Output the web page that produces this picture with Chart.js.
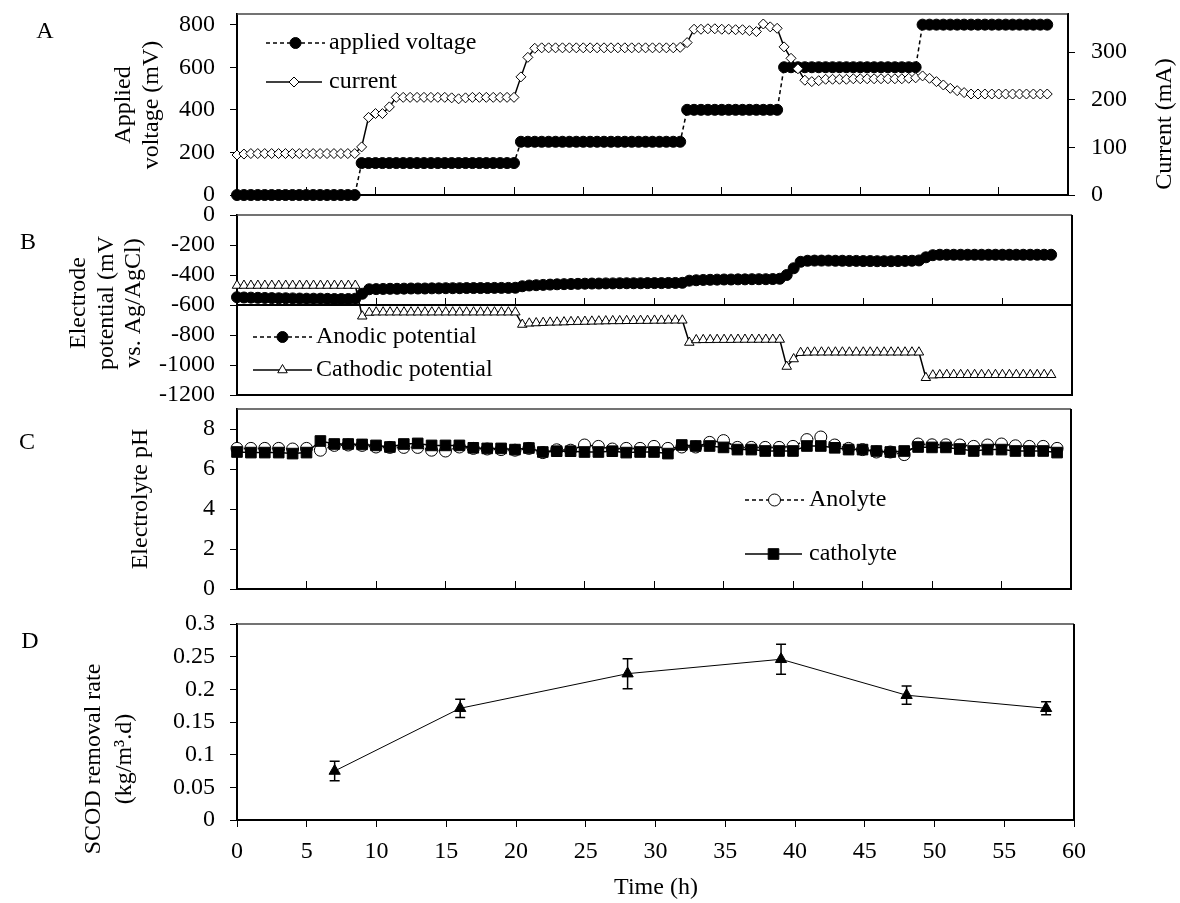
<!DOCTYPE html>
<html>
<head>
<meta charset="utf-8">
<title>Reactor operation over 60 h</title>
<script src="https://cdn.jsdelivr.net/npm/chart.js@4.4.1/dist/chart.umd.min.js"></script>
<style>
  html, body { margin: 0; padding: 0; background: #fff; }
  #wrap { position: relative; width: 1180px; height: 903px; }
  #wrap canvas { position: absolute; left: 0; top: 0; }
</style>
</head>
<body>
<div id="wrap">
  <canvas id="panelA" width="1180" height="903"></canvas>
  <canvas id="panelB" width="1180" height="903"></canvas>
  <canvas id="panelC" width="1180" height="903"></canvas>
  <canvas id="panelD" width="1180" height="903"></canvas>
</div>
<script>
// ---- data ----

// half-hourly log: applied voltage, current, electrode potentials
const hours = [
  0, 0.5, 1, 1.5, 2, 2.5, 3, 3.5, 4, 4.5, 5, 5.5, 6, 6.5, 7, 7.5, 8, 8.5, 9, 9.5,
  10, 10.5, 11, 11.5, 12, 12.5, 13, 13.5, 14, 14.5, 15, 15.5, 16, 16.5, 17, 17.5, 18, 18.5, 19, 19.5,
  20, 20.5, 21, 21.5, 22, 22.5, 23, 23.5, 24, 24.5, 25, 25.5, 26, 26.5, 27, 27.5, 28, 28.5, 29, 29.5,
  30, 30.5, 31, 31.5, 32, 32.5, 33, 33.5, 34, 34.5, 35, 35.5, 36, 36.5, 37, 37.5, 38, 38.5, 39, 39.5,
  40, 40.5, 41, 41.5, 42, 42.5, 43, 43.5, 44, 44.5, 45, 45.5, 46, 46.5, 47, 47.5, 48, 48.5, 49, 49.5,
  50, 50.5, 51, 51.5, 52, 52.5, 53, 53.5, 54, 54.5, 55, 55.5, 56, 56.5, 57, 57.5, 58, 58.5
];

// mV
const appliedVoltage = [
  0, 0, 0, 0, 0, 0, 0, 0, 0, 0, 0, 0, 0, 0, 0, 0, 0, 0, 150, 150,
  150, 150, 150, 150, 150, 150, 150, 150, 150, 150, 150, 150, 150, 150, 150, 150, 150, 150, 150, 150,
  150, 250, 250, 250, 250, 250, 250, 250, 250, 250, 250, 250, 250, 250, 250, 250, 250, 250, 250, 250,
  250, 250, 250, 250, 250, 400, 400, 400, 400, 400, 400, 400, 400, 400, 400, 400, 400, 400, 400, 600,
  600, 600, 600, 600, 600, 600, 600, 600, 600, 600, 600, 600, 600, 600, 600, 600, 600, 600, 600, 800,
  800, 800, 800, 800, 800, 800, 800, 800, 800, 800, 800, 800, 800, 800, 800, 800, 800, 800
];

// mA
const current = [
  84, 86, 87, 87, 87, 87, 87, 87, 87, 87, 87, 87, 87, 87, 87, 87, 87, 87, 101, 163,
  171, 171, 185, 205, 205, 205, 205, 205, 205, 205, 205, 204, 202, 204, 205, 205, 205, 205, 205, 205,
  205, 248, 289, 308, 309, 309, 309, 309, 309, 309, 309, 309, 309, 309, 309, 309, 309, 309, 309, 309,
  309, 309, 309, 309, 310, 320, 348, 348, 349, 349, 348, 348, 347, 347, 345, 343, 359, 353, 350, 311,
  287, 265, 241, 238, 240, 243, 243, 243, 243, 244, 244, 244, 244, 244, 244, 244, 244, 245, 246, 250,
  245, 238, 231, 224, 219, 215, 212, 212, 212, 212, 212, 212, 212, 212, 212, 212, 212, 212
];

// mV vs. Ag/AgCl
const anodicPotential = [
  -548, -550, -551, -552, -553, -554, -555, -555, -556, -557, -558, -558, -558, -559, -560, -560, -560, -558, -525, -495,
  -494, -493, -492, -492, -491, -490, -490, -490, -489, -489, -488, -488, -488, -487, -487, -487, -487, -486, -486, -486,
  -485, -475, -470, -468, -466, -464, -462, -461, -460, -459, -458, -457, -457, -456, -456, -455, -455, -455, -455, -454,
  -454, -454, -453, -453, -452, -438, -435, -433, -432, -431, -430, -430, -429, -429, -428, -428, -428, -427, -425, -400,
  -355, -312, -305, -304, -304, -304, -305, -305, -306, -306, -307, -307, -308, -308, -308, -307, -306, -305, -303, -282,
  -268, -265, -265, -265, -265, -265, -265, -265, -265, -265, -265, -265, -265, -265, -265, -265, -265, -265
];

const cathodicPotential = [
  -470, -470, -470, -470, -470, -470, -470, -470, -470, -470, -470, -470, -470, -470, -470, -470, -470, -470, -675, -650,
  -648, -648, -648, -648, -648, -648, -648, -648, -648, -648, -648, -648, -648, -648, -648, -648, -648, -648, -648, -648,
  -648, -730, -722, -720, -718, -716, -715, -714, -712, -711, -710, -709, -708, -707, -706, -706, -705, -705, -704, -704,
  -703, -703, -702, -702, -702, -850, -833, -832, -832, -831, -831, -831, -830, -830, -830, -830, -830, -830, -830, -1010,
  -960, -918, -916, -915, -915, -915, -915, -915, -915, -915, -915, -915, -915, -915, -915, -915, -915, -915, -915, -1085,
  -1068, -1066, -1065, -1065, -1065, -1065, -1065, -1065, -1065, -1065, -1065, -1065, -1065, -1065, -1065, -1065, -1065, -1065
];

// hourly electrolyte pH
const phHours = [
  0, 1, 2, 3, 4, 5, 6, 7, 8, 9, 10, 11, 12, 13, 14, 15, 16, 17, 18, 19,
  20, 21, 22, 23, 24, 25, 26, 27, 28, 29, 30, 31, 32, 33, 34, 35, 36, 37, 38, 39,
  40, 41, 42, 43, 44, 45, 46, 47, 48, 49, 50, 51, 52, 53, 54, 55, 56, 57, 58, 59
];
const anolytePH = [
  7.03, 7.03, 7.03, 7.03, 7.00, 7.03, 6.94, 7.18, 7.20, 7.18, 7.10, 7.08, 7.08, 7.08, 6.94, 6.90, 7.10, 7.03, 7.00, 6.97,
  6.94, 7.03, 6.82, 6.96, 6.94, 7.20, 7.13, 7.00, 7.03, 7.03, 7.13, 7.03, 7.10, 7.10, 7.33, 7.42, 7.08, 7.08, 7.08, 7.08,
  7.13, 7.47, 7.60, 7.20, 7.03, 6.97, 6.85, 6.85, 6.72, 7.25, 7.21, 7.21, 7.20, 7.13, 7.20, 7.25, 7.16, 7.13, 7.13, 7.03
];
const catholytePH = [
  6.85, 6.82, 6.82, 6.82, 6.77, 6.82, 7.40, 7.25, 7.25, 7.23, 7.18, 7.10, 7.25, 7.28, 7.18, 7.18, 7.18, 7.06, 7.03, 7.03,
  6.97, 7.05, 6.85, 6.89, 6.89, 6.85, 6.85, 6.89, 6.82, 6.85, 6.85, 6.77, 7.20, 7.15, 7.15, 7.08, 6.97, 6.97, 6.90, 6.90,
  6.90, 7.15, 7.15, 7.06, 6.97, 6.97, 6.90, 6.85, 6.90, 7.10, 7.08, 7.08, 7.00, 6.90, 6.97, 6.97, 6.90, 6.90, 6.90, 6.82
];

// SCOD removal rate, kg/m3.d, with standard deviation
const scodHours = [7, 16, 28, 39, 48, 58];
const scodRate = [0.075, 0.171, 0.224, 0.246, 0.191, 0.171];
const scodSd = [0.015, 0.014, 0.023, 0.023, 0.014, 0.010];

// ---- layout ----
const W = 1180, H = 903, LEFT = 237;
const FAMILY = "'Liberation Serif', 'Times New Roman', Times, serif";
const FONT = '24px ' + FAMILY;

Chart.defaults.font.family = FAMILY;
Chart.defaults.font.size = 24;
Chart.defaults.color = '#000';

const pts = (xs, ys) => xs.map((x, i) => ({ x: x, y: ys[i] }));
// plain numbers: no thousands separator, no padded decimals
const plain = v => String(Math.round(v * 1000) / 1000);

// fixed axis sizes so every panel's plot area lines up; label overflow is ignored
function fixSize(s, w, h) {
  if (w !== undefined) s.width = w;
  if (h !== undefined) s.height = h;
  s.paddingTop = 0;
  s.paddingBottom = 0;
  s.paddingLeft = 0;
  s.paddingRight = 0;
}

function timeAxis() {
  return {
    type: 'linear', min: 0, max: 60,
    ticks: { stepSize: 5, display: false },
    grid: { drawOnChartArea: false, tickLength: -8, color: '#000', lineWidth: 1 },
    border: { color: '#000', width: 2 },
    afterFit: s => fixSize(s, undefined, 0)
  };
}

function valueAxis(min, max, step, width, position) {
  return {
    type: 'linear', position: position || 'left', min: min, max: max,
    ticks: {
      stepSize: step, includeBounds: false, autoSkip: false,
      padding: position === 'right' ? 16 : 15, callback: plain
    },
    grid: { drawOnChartArea: false, tickLength: 7, color: '#000', lineWidth: 1 },
    border: { color: '#000', width: 2 },
    afterFit: s => fixSize(s, width)
  };
}

function vText(ctx, text, x, y) {
  ctx.save();
  ctx.translate(x, y);
  ctx.rotate(-Math.PI / 2);
  ctx.textAlign = 'center';
  ctx.textBaseline = 'middle';
  ctx.fillText(text, 0, 0);
  ctx.restore();
}

// legend rows: sample line + marker taken from the dataset, then its label
function drawLegend(chart, rows) {
  const ctx = chart.ctx;
  rows.forEach(r => {
    const ds = chart.data.datasets[r.index];
    ctx.save();
    ctx.strokeStyle = ds.borderColor;
    ctx.lineWidth = ds.borderWidth;
    ctx.setLineDash(ds.borderDash || []);
    ctx.beginPath();
    ctx.moveTo(r.x0, r.y);
    ctx.lineTo(r.x1, r.y);
    ctx.stroke();
    ctx.setLineDash([]);
    ctx.fillStyle = ds.pointBackgroundColor;
    ctx.strokeStyle = ds.pointBorderColor;
    ctx.lineWidth = ds.pointBorderWidth;
    Chart.helpers.drawPoint(ctx, {
      pointStyle: ds.pointStyle, radius: ds.pointRadius, borderWidth: ds.pointBorderWidth, rotation: 0
    }, (r.x0 + r.x1) / 2, r.y);
    ctx.fillStyle = '#000';
    ctx.font = FONT;
    ctx.textAlign = 'left';
    ctx.textBaseline = 'middle';
    ctx.fillText(ds.label, r.tx, r.y);
    ctx.restore();
  });
}

// plot frame, panel letter, axis titles and legend
function decor(spec) {
  return {
    id: 'decor',
    beforeDatasetsDraw(chart) {
      const { ctx, chartArea: a } = chart;
      ctx.save();
      ctx.strokeStyle = '#444';
      ctx.lineWidth = 1.5;
      ctx.beginPath();
      ctx.moveTo(a.left, a.top);
      ctx.lineTo(a.right, a.top);
      ctx.stroke();
      ctx.strokeStyle = '#000';
      ctx.lineWidth = 2;
      ctx.beginPath();
      ctx.moveTo(a.right, a.top);
      ctx.lineTo(a.right, a.bottom);
      if (spec.closeBottom) ctx.lineTo(a.left, a.bottom);
      ctx.stroke();
      ctx.restore();
      if (spec.underMarks) spec.underMarks(chart);
    },
    afterDraw(chart) {
      const ctx = chart.ctx;
      ctx.save();
      ctx.fillStyle = '#000';
      ctx.font = FONT;
      ctx.textAlign = 'center';
      ctx.textBaseline = 'middle';
      ctx.fillText(spec.letter[0], spec.letter[1], spec.letter[2]);
      spec.titles.forEach(t => vText(ctx, t[0], t[1], t[2]));
      (spec.flatTitles || []).forEach(t => ctx.fillText(t[0], t[1], t[2]));
      ctx.restore();
      drawLegend(chart, spec.legend || []);
    }
  };
}

function baseOptions(top, bottom, right) {
  return {
    responsive: false,
    animation: false,
    events: [],
    devicePixelRatio: 1,
    layout: { autoPadding: false, padding: { top: top, bottom: bottom, left: 0, right: right } },
    plugins: { legend: { display: false }, tooltip: { enabled: false } },
    elements: { line: { tension: 0 } }
  };
}

// ---- A: applied voltage and current ----
const optA = baseOptions(14, H - 195, 0);
optA.scales = {
  x: timeAxis(),
  y: valueAxis(0, 850, 200, LEFT),
  y1: valueAxis(0, 380, 100, W - 1068, 'right')
};
new Chart(document.getElementById('panelA'), {
  type: 'line',
  data: {
    datasets: [
      {
        label: 'applied voltage', data: pts(hours, appliedVoltage), yAxisID: 'y', order: 1, clip: false,
        borderColor: '#000', borderWidth: 1.5, borderDash: [4, 3],
        pointStyle: 'circle', pointRadius: 5.5, pointBackgroundColor: '#000', pointBorderColor: '#000', pointBorderWidth: 1
      },
      {
        label: 'current', data: pts(hours, current), yAxisID: 'y1', order: 0, clip: false,
        borderColor: '#000', borderWidth: 1.5,
        pointStyle: 'rectRot', pointRadius: 5, pointBackgroundColor: '#fff', pointBorderColor: '#000', pointBorderWidth: 1
      }
    ]
  },
  options: optA,
  plugins: [decor({
    letter: ['A', 45, 32],
    titles: [['Applied', 124, 105], ['voltage (mV)', 152, 105], ['Current (mA)', 1165, 124]],
    legend: [
      { index: 0, x0: 266, x1: 325, tx: 329, y: 43 },
      { index: 1, x0: 266, x1: 322, tx: 329, y: 82 }
    ]
  })]
});

// ---- B: electrode potentials ----
const optB = baseOptions(215, H - 395, W - 1072);
optB.scales = {
  x: Object.assign(timeAxis(), { position: { y: -600 } }),
  y: valueAxis(-1200, 0, 200, LEFT)
};
new Chart(document.getElementById('panelB'), {
  type: 'line',
  data: {
    datasets: [
      {
        label: 'Anodic potential', data: pts(hours, anodicPotential), clip: false,
        borderColor: '#000', borderWidth: 1.5, borderDash: [4, 3],
        pointStyle: 'circle', pointRadius: 5.5, pointBackgroundColor: '#000', pointBorderColor: '#000', pointBorderWidth: 1
      },
      {
        label: 'Cathodic potential', data: pts(hours, cathodicPotential), clip: false,
        borderColor: '#000', borderWidth: 1.5,
        pointStyle: 'triangle', pointRadius: 5.5, pointBackgroundColor: '#fff', pointBorderColor: '#000', pointBorderWidth: 1
      }
    ]
  },
  options: optB,
  plugins: [decor({
    letter: ['B', 28, 243],
    closeBottom: true,
    titles: [['Electrode', 79, 303], ['potential (mV', 107, 303], ['vs. Ag/AgCl)', 134, 303]],
    legend: [
      { index: 0, x0: 253, x1: 312, tx: 316, y: 337 },
      { index: 1, x0: 253, x1: 312, tx: 316, y: 370 }
    ]
  })]
});

// ---- C: electrolyte pH ----
const optC = baseOptions(409, H - 589, W - 1071);
optC.scales = {
  x: timeAxis(),
  y: valueAxis(0, 9, 2, LEFT)
};
new Chart(document.getElementById('panelC'), {
  type: 'line',
  data: {
    datasets: [
      {
        label: 'Anolyte', data: pts(phHours, anolytePH), order: 1, clip: false,
        borderColor: '#000', borderWidth: 1.5, borderDash: [4, 3],
        pointStyle: 'circle', pointRadius: 6, pointBackgroundColor: '#fff', pointBorderColor: '#000', pointBorderWidth: 1
      },
      {
        label: 'catholyte', data: pts(phHours, catholytePH), order: 0, clip: false,
        borderColor: '#000', borderWidth: 1.5,
        pointStyle: 'rect', pointRadius: 7.5, pointBackgroundColor: '#000', pointBorderColor: '#000', pointBorderWidth: 1
      }
    ]
  },
  options: optC,
  plugins: [decor({
    letter: ['C', 27, 443],
    titles: [['Electrolyte pH', 141, 499]],
    legend: [
      { index: 0, x0: 745, x1: 804, tx: 809, y: 500 },
      { index: 1, x0: 745, x1: 802, tx: 809, y: 554 }
    ]
  })]
});

// ---- D: SCOD removal rate with error bars ----
function errorBars(chart) {
  const { ctx, scales: { x, y } } = chart;
  ctx.save();
  ctx.strokeStyle = '#000';
  ctx.lineWidth = 1.5;
  scodHours.forEach((h, i) => {
    const px = x.getPixelForValue(h);
    const hi = y.getPixelForValue(scodRate[i] + scodSd[i]);
    const lo = y.getPixelForValue(scodRate[i] - scodSd[i]);
    ctx.beginPath();
    ctx.moveTo(px, hi); ctx.lineTo(px, lo);
    ctx.moveTo(px - 5, hi); ctx.lineTo(px + 5, hi);
    ctx.moveTo(px - 5, lo); ctx.lineTo(px + 5, lo);
    ctx.stroke();
  });
  ctx.restore();
}

const D_AXIS_H = 60;
const optD = baseOptions(624, H - 820 - D_AXIS_H, W - 1074);
optD.scales = {
  x: {
    type: 'linear', min: 0, max: 60,
    ticks: { stepSize: 5, padding: 10, maxRotation: 0, autoSkip: false, callback: plain },
    grid: { drawOnChartArea: false, tickLength: 7, color: '#000', lineWidth: 1 },
    border: { color: '#000', width: 2 },
    afterFit: s => fixSize(s, undefined, D_AXIS_H)
  },
  y: valueAxis(0, 0.3, 0.05, LEFT)
};
new Chart(document.getElementById('panelD'), {
  type: 'line',
  data: {
    datasets: [{
      label: 'SCOD removal rate', data: pts(scodHours, scodRate), clip: false,
      borderColor: '#000', borderWidth: 1,
      pointStyle: 'triangle', pointRadius: 6.5, pointBackgroundColor: '#000', pointBorderColor: '#000', pointBorderWidth: 1
    }]
  },
  options: optD,
  plugins: [decor({
    letter: ['D', 30, 642],
    titles: [['SCOD removal rate', 94, 759], ['(kg/m\u00b3.d)', 125, 759]],
    flatTitles: [['Time (h)', 656, 888]],
    underMarks: errorBars
  })]
});
</script>
</body>
</html>
